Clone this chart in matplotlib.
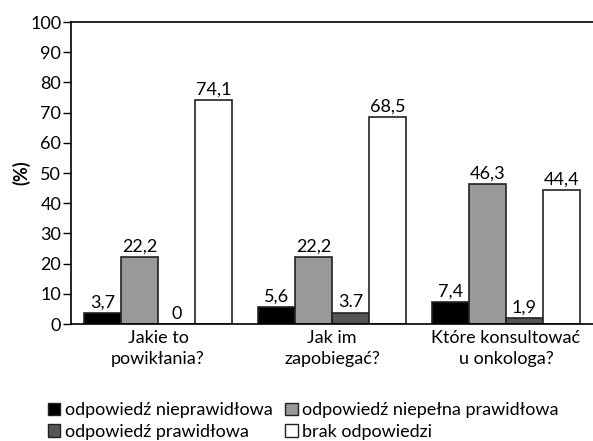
import matplotlib.pyplot as plt
import numpy as np
from matplotlib.patches import Patch

categories = ["Jakie to\npowikłania?", "Jak im\nzapobiegać?", "Które konsultować\nu onkologa?"]
series_names = ["odpowiedź nieprawidłowa", "odpowiedź niepełna prawidłowa",
                "odpowiedź prawidłowa", "brak odpowiedzi"]
nieprawidlowa = [3.7, 5.6, 7.4]
niepelna = [22.2, 22.2, 46.3]
prawidlowa = [0, 3.7, 1.9]
brak = [74.1, 68.5, 44.4]
value_labels = [["3,7", "5,6", "7,4"],
                ["22,2", "22,2", "46,3"],
                ["0", "3.7", "1,9"],
                ["74,1", "68,5", "44,4"]]
yticks = [0, 10, 20, 30, 40, 50, 60, 70, 80, 90, 100]

plt.rcParams['font.family'] = ['Lato', 'DejaVu Sans']
FS = 13

colors = ["#000000", "#999999", "#555555", "#ffffff"]
series = [nieprawidlowa, niepelna, prawidlowa, brak]

fig = plt.figure(figsize=(5.93, 4.41), dpi=100)
ax = fig.add_axes([0.1197, 0.2653, 0.8803, 0.6848])

x = np.arange(len(categories))
w = 0.212
for i, (vals, col) in enumerate(zip(series, colors)):
    pos = x + (i - 1.5) * w
    ax.bar(pos, vals, width=w, color=col, edgecolor="#222222", linewidth=1.2)
    for p, v, lab in zip(pos, vals, value_labels[i]):
        ax.text(p, v + 0.8, lab, ha="center", va="bottom", fontsize=FS)

ax.set_xlim(-0.5, 2.5)
ax.set_ylim(0, 100)
ax.set_yticks(yticks)
ax.set_yticklabels([str(t) for t in yticks], fontsize=FS)
ax.set_xticks(x)
ax.set_xticklabels(categories, fontsize=FS, linespacing=1.4)
ax.tick_params(axis="x", length=0, pad=4)
ax.tick_params(axis="y", length=6, width=1, pad=1)
ax.spines["right"].set_visible(False)
for s in ["left", "bottom", "top"]:
    ax.spines[s].set_linewidth(1.2)
ax.set_ylabel("(%)", fontsize=FS, fontweight="bold", labelpad=0)

# legend filled column-wise, so order handles to read row by row
order = [0, 2, 1, 3]
handles = [Patch(facecolor=colors[k], edgecolor="#222222", linewidth=1.0) for k in order]
labels = [series_names[k] for k in order]
fig.legend(handles, labels, loc="lower left", bbox_to_anchor=(0.065, -0.018),
           ncol=2, frameon=False, fontsize=FS, handlelength=0.7, handleheight=0.7,
           handletextpad=0.25, columnspacing=0.7, labelspacing=0.3, borderaxespad=0.1)

fig.savefig("out.png", dpi=100)
